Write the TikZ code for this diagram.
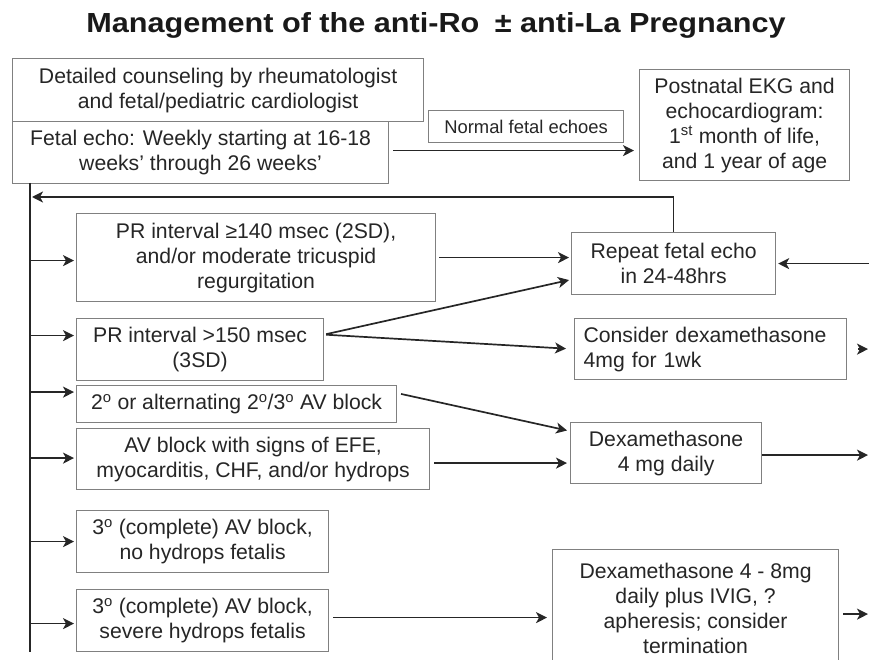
\documentclass[tikz,border=0pt]{standalone}
\usepackage{fontspec}
\setmainfont{Liberation Sans}
\usetikzlibrary{arrows.meta}
\begin{document}
\begin{tikzpicture}[x=1pt,y=-1pt,
  box/.style={draw=black!50,line width=1.2pt,fill=white,text=black!85,align=center,inner sep=0pt,anchor=north west,font=\fontsize{21.2}{25}\selectfont},
  arr/.style={-{Stealth[length=11pt,width=11pt,inset=3pt]},line width=1.7pt,draw=black!85,shorten >=2pt}]
\clip (0,0) rectangle (869,660);
\node[font=\bfseries\fontsize{27.6}{32}\selectfont,text=black!90,anchor=base] (title) at (436,33){\scalebox{1.11}[1]{Management of the anti-Ro\enspace ± anti-La Pregnancy}};
% top of the chart
\node[box,minimum width=411,minimum height=63] (couns) at (12,58){Detailed counseling by rheumatologist\\and fetal/pediatric cardiologist};
\node[box,minimum width=376,minimum height=62] (echo) at (12,121){Fetal echo: Weekly starting at 16-18\\weeks' through 26 weeks'};
\node[box,minimum width=195,minimum height=32,font=\fontsize{18.4}{22}\selectfont] (normal) at (428,110){Normal fetal echoes};
\node[box,minimum width=210,minimum height=111] (post) at (639,69){Postnatal EKG and\\echocardiogram:\\1\textsuperscript{st} month of life,\\and 1 year of age};
% findings
\node[box,minimum width=359,minimum height=88] (pr140) at (76,213){PR interval ≥140 msec (2SD),\\and/or moderate tricuspid\\regurgitation};
\node[box,minimum width=247,minimum height=62] (pr150) at (76,318){PR interval >150 msec\\(3SD)};
\node[box,minimum width=320,minimum height=37] (alt) at (76,385){2\textsuperscript{o} or alternating 2\textsuperscript{o}/3\textsuperscript{o} AV block};
\node[box,minimum width=353,minimum height=61] (efe) at (76,428){AV block with signs of EFE,\\myocarditis, CHF, and/or hydrops};
\node[box,minimum width=252,minimum height=62] (cavb) at (76,510){3\textsuperscript{o} (complete) AV block,\\no hydrops fetalis};
\node[box,minimum width=252,minimum height=62] (hyd) at (76,589){3\textsuperscript{o} (complete) AV block,\\severe hydrops fetalis};
% treatments
\node[box,minimum width=204,minimum height=62] (rep) at (571,232){Repeat fetal echo\\in 24-48hrs};
\node[box,align=left,text width=254,inner xsep=9pt,minimum height=61] (cons) at (574,318){Consider dexamethasone\\4mg for 1wk};
\node[box,minimum width=191,minimum height=61] (dex) at (570,422){Dexamethasone\\4 mg daily};
\node[box,minimum width=286,minimum height=117] (ivig) at (552,549){Dexamethasone 4 - 8mg\\daily plus IVIG, ?\\apheresis; consider\\termination};
% connectors
\coordinate (sp) at (30,183);\coordinate (fb) at (30,197);\coordinate (edge) at (868,0);\coordinate (inR) at (870,0);
\draw[line width=1.7pt,black!85] (sp)--(sp |- hyd.south);
\draw[line width=1.7pt,black!85] (rep.north)--(rep.north |- fb);\draw[arr] (rep.north |- fb)--(fb);
\foreach \b/\s in {pr140/-3,pr150/14,alt/12,efe/1,cavb/0,hyd/-3}{\coordinate (t) at ([yshift=\s pt]\b.west);\draw[arr] (sp |- t)--(t);}
\draw[arr,shorten <=4pt,shorten >=5pt] ([yshift=2pt]echo.east)--([yshift=2pt]echo.east -| post.west);
\draw[arr,shorten <=3pt] (pr140.east)--(pr140.east -| rep.west);
\draw[arr] (rep.east -| inR)--(rep.east);
\draw[arr,shorten <=2pt] ([yshift=15pt]pr150.east)--([yshift=-16pt]rep.west);
\draw[arr,shorten <=2pt,shorten >=8pt] ([yshift=15pt]pr150.east)--(cons.west);
\draw[arr,shorten <=4pt,shorten >=3pt] ([yshift=11pt]alt.east)--([yshift=22pt]dex.west);
\draw[arr,shorten <=4pt,shorten >=3pt] ([yshift=-4pt]efe.east)--([yshift=-4pt]efe.east -| dex.west);
\draw[arr,shorten >=0pt] ([yshift=-2pt]dex.east)--([yshift=-2pt]dex.east -| edge);
\draw[arr,shorten <=11pt,shorten >=0pt] (cons.east)--(cons.east -| edge);
\draw[arr,shorten <=4pt,shorten >=5pt] ([yshift=3pt]hyd.east)--([yshift=3pt]hyd.east -| ivig.west);
\draw[arr,shorten <=4pt,shorten >=0pt] ([yshift=-6pt]ivig.east)--([yshift=-6pt]ivig.east -| edge);
\end{tikzpicture}
\end{document}
